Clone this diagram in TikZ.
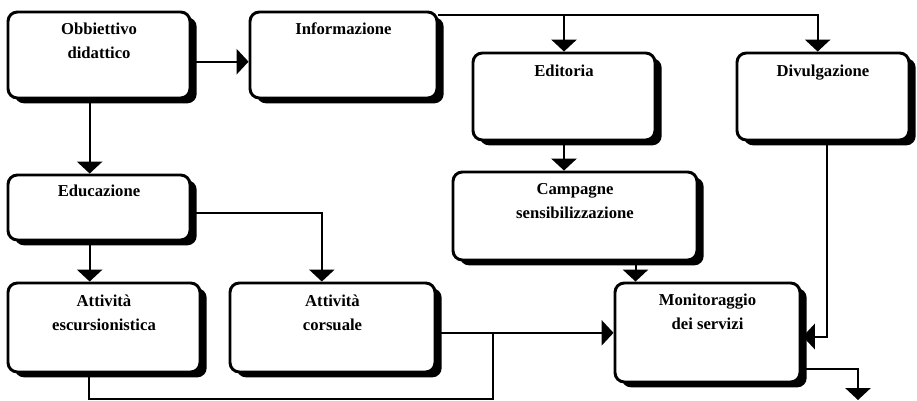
\documentclass[tikz,border=0pt]{standalone}
\usepackage{fontspec}
\setmainfont{Liberation Serif}
\usetikzlibrary{arrows.meta, positioning, calc, fit, shadows}

\begin{document}
\begin{tikzpicture}[
  x=0.75pt, y=-0.75pt,
  box/.style={
    rectangle, rounded corners=7pt,
    draw=black, line width=2.2pt, fill=white, inner sep=0pt,
    drop shadow={shadow xshift=5pt, shadow yshift=-4pt, fill=black, opacity=1}
  },
  txt/.style={
    anchor=north, inner sep=0pt, align=center,
    font=\bfseries\fontsize{12.5}{18}\selectfont
  },
  arr/.style={-{Triangle[length=9pt, width=19pt]}, line width=1.5pt},
  conn/.style={line width=1.5pt}
]
  \useasboundingbox (0,0) rectangle (917,400);

  % Top row
  \node[box, fit={(8,12) (190,98)}] (obj) {};
  \node[box, fit={(250,12) (437,98)}] (info) {};
  \node[box, fit={(473,53) (655,140)}] (edit) {};
  \node[box, fit={(737,53) (909,140)}] (divul) {};

  \node[txt] (objt) at ($(obj.north)+(0,12)$) {Obbiettivo\\didattico};
  \node[txt] (infot) at ($(info.north)+(0,12)$) {Informazione};
  \node[txt] (editt) at ($(edit.north)+(0,13)$) {Editoria};
  \node[txt] (divult) at ($(divul.north)+(0,13)$) {Divulgazione};

  % Middle and bottom rows
  \node[box, fit={(8,175) (190,240)}] (edu) {};
  \node[box, fit={(453,172) (697,260)}] (camp) {};
  \node[box, fit={(8,283) (200,372)}] (esc) {};
  \node[box, fit={(230,283) (435,372)}] (cors) {};
  \node[box, fit={(615,283) (800,382)}] (mon) {};

  \node[txt] (edut) at ($(edu.north)+(0,11)$) {Educazione};
  \node[txt] (campt) at ($(camp.north)+(0,13)$) {Campagne\\sensibilizzazione};
  \node[txt] (esct) at ($(esc.north)+(0,13)$) {Attività\\escursionistica};
  \node[txt] (corst) at ($(cors.north)+(0,13)$) {Attività\\corsuale};
  \node[txt] (mont) at ($(mon.north)+(0,12)$) {Monitoraggio\\dei servizi};

  % Connectors
  \draw[arr] ([yshift=-5pt]obj.east) -- ([yshift=-5pt]info.west);

  \coordinate (itop) at ($(info.north east)+(0,4)$);
  \draw[arr] (itop) -| ([xshift=-4pt]divul.north);
  \draw[arr] (itop -| edit.north) -- (edit.north);

  \draw[arr] ([xshift=-7pt]obj.south) -- ([xshift=-7pt]edu.north);
  \draw[arr] ([xshift=-7pt]edu.south) -- ([xshift=-7pt]edu.south |- esc.north);
  \draw[arr] ([yshift=-4pt]edu.east) -| ([xshift=-8pt]cors.north);

  \draw[arr] (edit.south) -- (edit.south |- camp.north);
  \draw[arr] ([xshift=-54pt]mon.north |- camp.south) -- ([xshift=-54pt]mon.north);

  \draw[arr] ([xshift=3pt]divul.south) |- ([xshift=1pt, yshift=-3pt]mon.east);
  \draw[arr] ([yshift=-4pt]cors.east) -- ([yshift=-4pt]cors.east -| mon.west);

  \coordinate (jn) at (493,333);
  \draw[conn] ([xshift=-11pt]esc.south) -- ++(0,26) -| (jn);

  \coordinate (out) at (858,400);
  \draw[arr] ([yshift=-27pt]mon.east) -| (out);
\end{tikzpicture}
\end{document}
